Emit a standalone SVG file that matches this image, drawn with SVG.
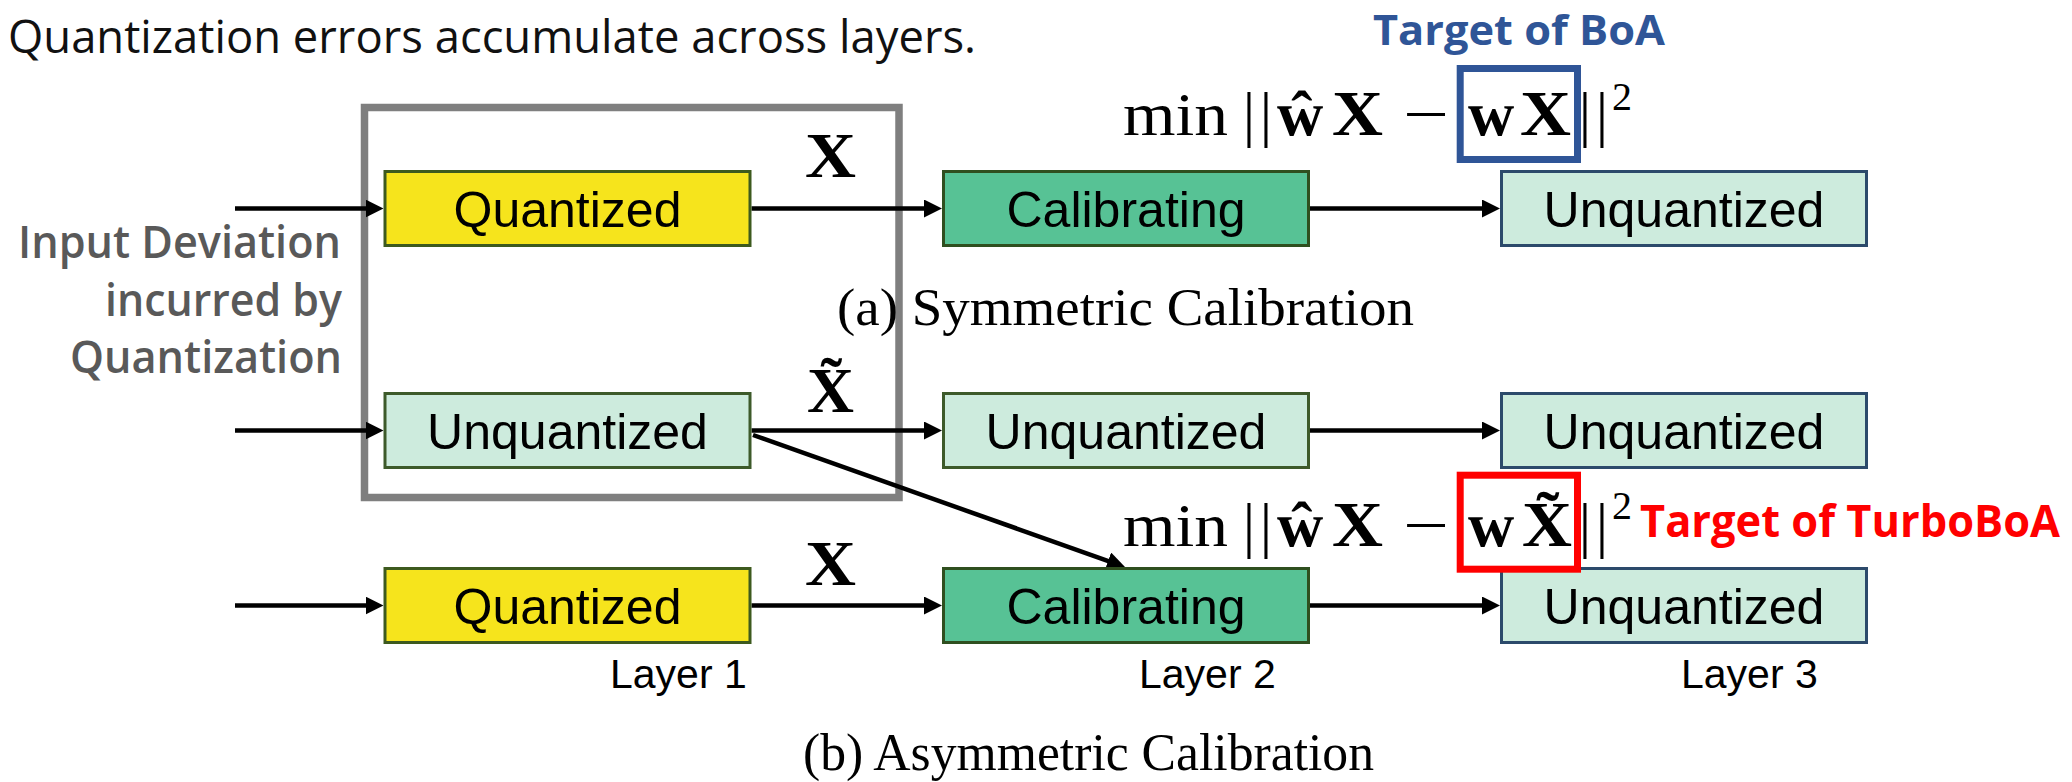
<svg xmlns="http://www.w3.org/2000/svg" width="2072" height="782" viewBox="0 0 2072 782">
  <defs>
    <style>
      .bg{fill:#ffffff}
      .box{stroke-width:3}
      .quant{fill:#F6E41C;stroke:#3D5A1E}
      .calib{fill:#57C295;stroke:#2F4F1F}
      .unq{fill:#CDEBDD;stroke:#3D5A2A}
      .unq-out{fill:#CDEBDD;stroke:#2C4A6B}
      .lbl{font-family:"Liberation Sans",Arial,sans-serif;font-size:50px;text-anchor:middle;fill:#000}
      .layer{font-family:"Liberation Sans",Arial,sans-serif;font-size:41px;fill:#000}
      .conn{stroke:#000;stroke-width:4.5;fill:none;marker-end:url(#ah)}
      .group-frame{fill:none;stroke:#7F7F7F;stroke-width:7.5}
      .math{font-family:"Liberation Serif","Times New Roman",serif;fill:#000}
      .mb{font-weight:bold;font-size:64px}
      .mr{font-size:62px}
      .cap{font-family:"Liberation Serif","Times New Roman",serif;font-size:53px;fill:#000}
      .title{font-family:"Open Sans","Noto Sans",sans-serif;font-size:46px;fill:#111}
      .note{font-family:"Open Sans","Noto Sans",sans-serif;font-size:46px;font-weight:600;fill:#595959}
      .tgt{font-family:"Open Sans","Noto Sans",sans-serif;font-weight:700}
    </style>
    <marker id="ah" markerUnits="userSpaceOnUse" markerWidth="18" markerHeight="18" refX="10" refY="9" orient="auto">
      <path d="M0,0 L18,9 L0,18 z" fill="#000"/>
    </marker>
  </defs>

  <rect class="bg" x="0" y="0" width="2072" height="782"/>

  <!-- heading -->
  <text id="title" class="title" x="8" y="53" textLength="968" lengthAdjust="spacingAndGlyphs">Quantization errors accumulate across layers.</text>

  <!-- side note -->
  <g id="note-input-deviation">
    <text class="note" x="18" y="258" textLength="323" lengthAdjust="spacingAndGlyphs">Input Deviation</text>
    <text class="note" x="105" y="316" textLength="237" lengthAdjust="spacingAndGlyphs">incurred by</text>
    <text class="note" x="70" y="373" textLength="272" lengthAdjust="spacingAndGlyphs">Quantization</text>
  </g>

  <!-- frame around the first layer -->
  <rect id="frame-layer1" class="group-frame" x="364.5" y="107.5" width="534.5" height="390"/>

  <!-- connectors -->
  <g id="connectors">
    <path class="conn" d="M235,208.5 H375.5"/>
    <path class="conn" d="M235,430.5 H375.5"/>
    <path class="conn" d="M235,605.5 H375.5"/>
    <path class="conn" d="M751.5,208.5 H934"/>
    <path class="conn" d="M1310,208.5 H1492"/>
    <path class="conn" d="M751.5,430.5 H934"/>
    <path class="conn" d="M1310,430.5 H1492"/>
    <path class="conn" d="M751.5,605.5 H934"/>
    <path class="conn" d="M1310,605.5 H1492"/>
    <path class="conn" d="M753,435 L1117.5,564.3"/>
  </g>

  <!-- (a) symmetric calibration -->
  <g id="a-l1"><rect class="box quant" x="385" y="171.5" width="365" height="74"/><text class="lbl" x="567.5" y="226.5">Quantized</text></g>
  <g id="a-l2"><rect class="box calib" x="943.5" y="171.5" width="365" height="74"/><text class="lbl" x="1126" y="226.5">Calibrating</text></g>
  <g id="a-l3"><rect class="box unq-out" x="1501.5" y="171.5" width="365" height="74"/><text class="lbl" x="1684" y="226.5">Unquantized</text></g>

  <!-- (b) asymmetric calibration, full-precision path -->
  <g id="b-fp-l1"><rect class="box unq" x="385" y="393.5" width="365" height="74"/><text class="lbl" x="567.5" y="448.5">Unquantized</text></g>
  <g id="b-fp-l2"><rect class="box unq" x="943.5" y="393.5" width="365" height="74"/><text class="lbl" x="1126" y="448.5">Unquantized</text></g>
  <g id="b-fp-l3"><rect class="box unq-out" x="1501.5" y="393.5" width="365" height="74"/><text class="lbl" x="1684" y="448.5">Unquantized</text></g>

  <!-- (b) asymmetric calibration, quantized path -->
  <g id="b-q-l1"><rect class="box quant" x="385" y="568.5" width="365" height="74"/><text class="lbl" x="567.5" y="623.5">Quantized</text></g>
  <g id="b-q-l2"><rect class="box calib" x="943.5" y="568.5" width="365" height="74"/><text class="lbl" x="1126" y="623.5">Calibrating</text></g>
  <g id="b-q-l3"><rect class="box unq-out" x="1501.5" y="568.5" width="365" height="74"/><text class="lbl" x="1684" y="623.5">Unquantized</text></g>

  <!-- activation labels on the edges -->
  <g id="edge-labels" class="math">
    <text class="mb" x="805" y="177" textLength="51" lengthAdjust="spacingAndGlyphs">X</text>
    <text class="mb" x="807" y="412" textLength="47" lengthAdjust="spacingAndGlyphs">X̃</text>
    <text class="mb" x="805" y="585" textLength="51" lengthAdjust="spacingAndGlyphs">X</text>
  </g>

  <!-- objective for symmetric calibration -->
  <g id="objective-a" class="math">
    <text class="mr" x="1123" y="135" textLength="105" lengthAdjust="spacingAndGlyphs">min</text>
    <text class="mr" x="1249" y="135" text-anchor="middle">|</text>
    <text class="mr" x="1266" y="135" text-anchor="middle">|</text>
    <text class="mb" x="1277" y="135">ŵ</text>
    <text class="mb" x="1332" y="135" textLength="51" lengthAdjust="spacingAndGlyphs">X</text>
    <text class="mr" x="1403" y="135" textLength="46" lengthAdjust="spacingAndGlyphs">−</text>
    <text class="mb" x="1468" y="135">w</text>
    <text class="mb" x="1520" y="135" textLength="51" lengthAdjust="spacingAndGlyphs">X</text>
    <text class="mr" x="1585" y="135" text-anchor="middle">|</text>
    <text class="mr" x="1602" y="135" text-anchor="middle">|</text>
    <text x="1612" y="110" font-size="40">2</text>
    <rect x="1460.2" y="68.5" width="117.3" height="91" fill="none" stroke="#2F5597" stroke-width="7"/>
  </g>
  <text id="target-boa" class="tgt" x="1373" y="45" font-size="42" fill="#2F5597" textLength="292" lengthAdjust="spacingAndGlyphs">Target of BoA</text>

  <!-- objective for asymmetric calibration -->
  <g id="objective-b" class="math">
    <text class="mr" x="1123" y="546" textLength="105" lengthAdjust="spacingAndGlyphs">min</text>
    <text class="mr" x="1249" y="546" text-anchor="middle">|</text>
    <text class="mr" x="1266" y="546" text-anchor="middle">|</text>
    <text class="mb" x="1277" y="546">ŵ</text>
    <text class="mb" x="1332" y="546" textLength="51" lengthAdjust="spacingAndGlyphs">X</text>
    <text class="mr" x="1403" y="546" textLength="46" lengthAdjust="spacingAndGlyphs">−</text>
    <text class="mb" x="1468" y="546">w</text>
    <text class="mb" x="1522" y="546" textLength="50" lengthAdjust="spacingAndGlyphs">X̃</text>
    <text class="mr" x="1585" y="546" text-anchor="middle">|</text>
    <text class="mr" x="1602" y="546" text-anchor="middle">|</text>
    <text x="1612" y="519" font-size="40">2</text>
    <rect x="1460.2" y="475.2" width="117.3" height="94" fill="none" stroke="#FF0000" stroke-width="7"/>
  </g>
  <text id="target-turboboa" class="tgt" x="1640" y="537" font-size="44" fill="#FF0000" textLength="420" lengthAdjust="spacingAndGlyphs">Target of TurboBoA</text>

  <!-- captions -->
  <text id="caption-a" class="cap" x="837" y="325" textLength="577" lengthAdjust="spacingAndGlyphs">(a) Symmetric Calibration</text>
  <g id="layer-labels">
    <text class="layer" x="610" y="688">Layer 1</text>
    <text class="layer" x="1139" y="688">Layer 2</text>
    <text class="layer" x="1681" y="688">Layer 3</text>
  </g>
  <text id="caption-b" class="cap" x="803" y="770" textLength="571" lengthAdjust="spacingAndGlyphs">(b) Asymmetric Calibration</text>
</svg>
